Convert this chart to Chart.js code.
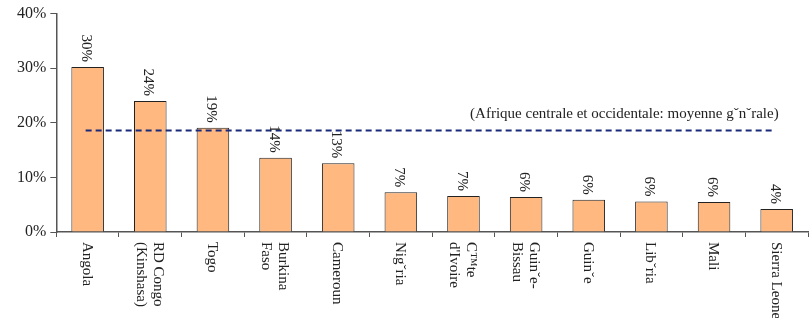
<!DOCTYPE html>
<html>
<head>
<meta charset="utf-8">
<script src="https://cdn.jsdelivr.net/npm/chart.js@4"></script>
<style>
  html, body { margin: 0; padding: 0; background: #fff; }
  .chart-container { width: 809px; height: 318px; position: relative; }
</style>
</head>
<body>
<div class="chart-container"><canvas id="shareChart"></canvas></div>
<script>
// Données
const countries = [
    ['Angola'], ['RD Congo', '(Kinshasa)'], ['Togo'], ['Burkina', 'Faso'], ['Cameroun'],
    ['Nigˇria'], ['C™te', "d'Ivoire"], ['Guinˇe-', 'Bissau'], ['Guinˇe'], ['Libˇria'],
    ['Mali'], ['Sierra Leone']
];
const shares = [30.2, 24.0, 19.1, 13.6, 12.6, 7.3, 6.6, 6.4, 5.9, 5.6, 5.5, 4.2];
const shareLabels = ['30%', '24%', '19%', '14%', '13%', '7%', '7%', '6%', '6%', '6%', '6%', '4%'];
const regionalAverage = 18.6;
const averageCaption = '(Afrique centrale et occidentale: moyenne gˇnˇrale)';
const yTicks = [0, 10, 20, 30, 40];

const serif = '"Liberation Serif", "DejaVu Serif", serif';
const axisColor = '#555';

const annotations = {
    id: 'annotations',
    afterDatasetsDraw(chart) {
        const { ctx, scales: { x, y } } = chart;
        ctx.save();

        // ligne de la moyenne
        const yAvg = y.getPixelForValue(regionalAverage);
        ctx.strokeStyle = '#1a2a7a';
        ctx.lineWidth = 2;
        ctx.setLineDash([6, 4]);
        ctx.beginPath();
        ctx.moveTo(x.getPixelForValue(0) - 2, yAvg);
        ctx.lineTo(x.getPixelForValue(countries.length - 1) - 4, yAvg);
        ctx.stroke();
        ctx.setLineDash([]);

        ctx.fillStyle = '#222';
        ctx.font = '15px ' + serif;
        ctx.textAlign = 'right';
        ctx.textBaseline = 'alphabetic';
        ctx.fillText(averageCaption, x.getPixelForValue(countries.length - 1) + 2, yAvg - 12);

        // étiquettes des valeurs et des pays, tournées de 90°
        const meta = chart.getDatasetMeta(0);
        meta.data.forEach((bar, i) => {
            ctx.save();
            ctx.translate(bar.x, bar.y - 5);
            ctx.rotate(Math.PI / 2);
            ctx.textAlign = 'right';
            ctx.textBaseline = 'middle';
            ctx.fillText(shareLabels[i], 0, 2);
            ctx.restore();

            const lines = countries[i];
            const lh = 17;
            ctx.save();
            ctx.translate(bar.x, y.bottom + 10);
            ctx.rotate(Math.PI / 2);
            ctx.textAlign = 'left';
            ctx.textBaseline = 'middle';
            lines.forEach((txt, k) => {
                const off = (k - (lines.length - 1) / 2) * lh;
                ctx.fillText(txt, 0, off + 1);
            });
            ctx.restore();
        });
        ctx.restore();
    }
};

new Chart(document.getElementById('shareChart'), {
    type: 'bar',
    data: {
        labels: countries.map(c => c.join(' ')),
        datasets: [{
            data: shares,
            backgroundColor: '#ffb880',
            borderColor: '#222',
            borderWidth: 1,
            barPercentage: 0.52,
            categoryPercentage: 1
        }]
    },
    options: {
        responsive: true,
        maintainAspectRatio: false,
        animation: false,
        layout: { padding: { left: 13, right: 1, top: 8, bottom: 81 } },
        plugins: { legend: { display: false }, tooltip: { enabled: false } },
        scales: {
            x: {
                grid: { offset: true, drawOnChartArea: false, tickLength: 5, color: axisColor },
                border: { color: axisColor, width: 1.5 },
                ticks: { display: false }
            },
            y: {
                min: 0,
                max: 40,
                afterBuildTicks: axis => { axis.ticks = yTicks.map(v => ({ value: v })); },
                grid: { drawOnChartArea: false, tickLength: 6, color: axisColor },
                border: { color: axisColor, width: 1.5 },
                ticks: {
                    color: '#222',
                    padding: 4,
                    font: { family: serif, size: 16 },
                    callback: v => v + '%'
                }
            }
        }
    },
    plugins: [annotations]
});
</script>
</body>
</html>
